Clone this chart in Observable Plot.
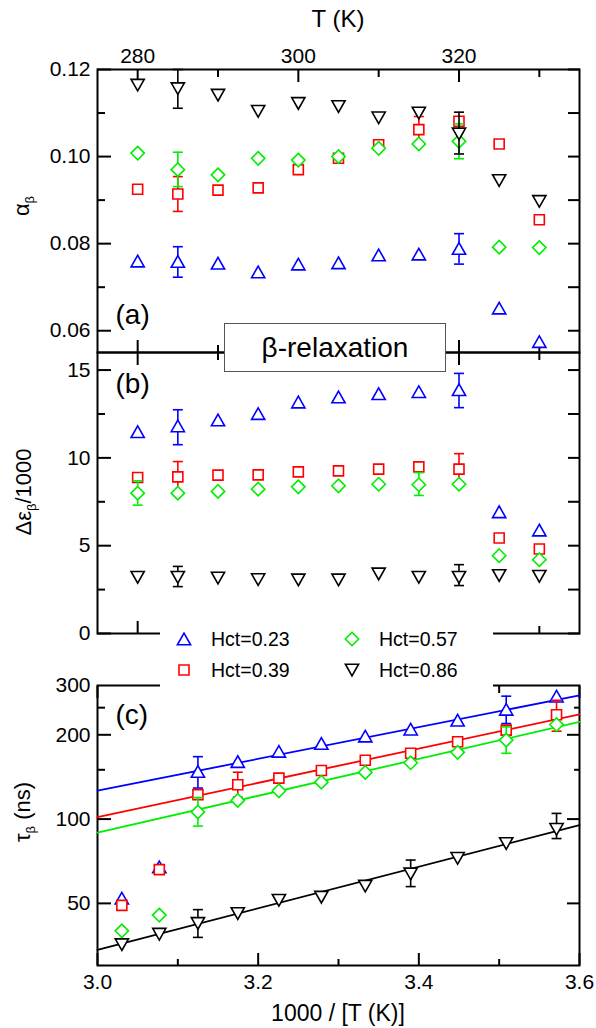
<!DOCTYPE html>
<html>
<head>
<meta charset="utf-8">
<script src="https://cdn.jsdelivr.net/npm/d3@7"></script>
<script src="https://cdn.jsdelivr.net/npm/@observablehq/plot@0.6"></script>
<style>
  html, body { margin: 0; padding: 0; background: #fff; }
  #figure { position: relative; width: 596px; height: 1028px; overflow: hidden;
            font-family: "Liberation Sans", Arial, Helvetica, sans-serif; color: #000; }
  #figure > * { position: absolute; }
  .tag-box { left: 224px; top: 323px; width: 220px; height: 47px; border: 1px solid #555;
             background: #fff; font-size: 28px; line-height: 47px; text-align: center; }
  .legend { left: 160px; top: 619px; width: 333px; height: 81px; background: #fff; }
  .legend svg, .legend span { position: absolute; }
  .legend span { font-size: 19.5px; line-height: 20px; white-space: nowrap; }
</style>
</head>
<body>
<div id="figure"></div>
<script>
// Measurement temperatures (K)
const temperatures = [280, 285, 290, 295, 300, 305, 310, 315, 320, 325, 330];

// Samples
const hematocrits = ["Hct=0.23", "Hct=0.39", "Hct=0.57", "Hct=0.86"];
const seriesColors = ["#0000ff", "#ff0000", "#00ee00", "#000000"];

// (a) shape parameter alpha_beta, one value per temperature
const alpha023 = [0.0760, 0.0759, 0.0755, 0.0735, 0.0753, 0.0756, 0.0774, 0.0776, 0.0789, 0.0652, 0.0575];
const alpha039 = [0.0925, 0.0914, 0.0923, 0.0928, 0.0970, 0.0996, 0.1027, 0.1062, 0.1081, 0.1029, 0.0855];
const alpha057 = [0.1008, 0.0970, 0.0958, 0.0996, 0.0992, 0.1000, 0.1019, 0.1029, 0.1035, 0.0792, 0.0791];
const alpha086 = [0.1164, 0.1156, 0.1141, 0.1104, 0.1122, 0.1115, 0.1089, 0.1100, 0.1052, 0.0945, 0.0897];
// error bars: [T, low, high]
const alpha023Err = [[285, 0.0723, 0.0793], [320, 0.0753, 0.0823]];
const alpha039Err = [[285, 0.0874, 0.0954], [315, 0.1032, 0.1092]];
const alpha057Err = [[285, 0.0931, 0.1010], [320, 0.0995, 0.1075]];
const alpha086Err = [[285, 0.1111, 0.1200], [320, 0.1006, 0.1102]];

// (b) relaxation strength Δε_beta / 1000
const eps023 = [11.49, 11.82, 12.16, 12.52, 13.18, 13.47, 13.65, 13.77, 13.88, 6.93, 5.89];
const eps039 = [8.88, 8.92, 9.02, 9.03, 9.20, 9.26, 9.36, 9.49, 9.36, 5.44, 4.81];
const eps057 = [7.99, 7.99, 8.09, 8.22, 8.35, 8.41, 8.50, 8.47, 8.50, 4.43, 4.20];
const eps086 = [3.20, 3.20, 3.16, 3.07, 3.05, 3.05, 3.39, 3.20, 3.20, 3.30, 3.26];
const eps023Err = [[285, 10.75, 12.74], [320, 12.86, 14.81]];
const eps039Err = [[285, 8.03, 9.79], [320, 8.50, 10.24]];
const eps057Err = [[280, 7.31, 8.69], [315, 7.86, 9.16]];
const eps086Err = [[285, 2.67, 3.82], [320, 2.73, 3.92]];

// (c) relaxation time tau_beta (ns)
const tau023 = [274.8, 246.6, 225.4, 209.5, 197.9, 186.3, 174.6, 160.5, 147.9, 67.5, 52.2];
const tau039 = [236.0, 207.8, 188.9, 171.8, 162.2, 149.1, 140.1, 132.7, 122.3, 66.0, 49.2];
const tau057 = [217.6, 191.5, 173.1, 158.9, 146.8, 135.5, 126.2, 116.6, 106.1, 45.4, 39.9];
const tau086 = [91.9, 81.8, 72.4, 63.7, 57.6, 52.6, 51.3, 46.0, 42.4, 38.8, 35.6];
const tau023Err = [[320, 129.1, 167.1], [285, 219.4, 274.8]];
const tau039Err = [[315, 119.8, 147.0], [280, 206.0, 265.6]];
const tau057Err = [[320, 94.4, 119.3], [285, 171.8, 213.5]];
const tau086Err = [[320, 37.8, 47.5], [295, 57.4, 71.4], [280, 85.2, 104.8]];

// Arrhenius fits: tau at the two ends of the 1000/T range
const fitRange = [3.0, 3.6];
const fitStart = [126.4, 101.6, 89.4, 34.1];
const fitEnd = [276.5, 236.7, 222.3, 95.2];

// Axis ticks
const tTicksMajor = [280, 300, 320];
const tTicksMinor = [290, 310, 330];
const alphaTicksMajor = [0.06, 0.08, 0.10, 0.12];
const alphaTicksMinor = [0.07, 0.09, 0.11];
const epsTicksMajor = [0, 5, 10, 15];
const epsTicksMinor = [2.5, 7.5, 12.5];
const invTicksMajor = [3.0, 3.2, 3.4, 3.6];
const invTicksMinor = [3.1, 3.3, 3.5];
const tauTicksLabeled = [50, 100, 200, 300];
const tauTicksMajor = [50, 100, 200];
const tauTicksMinor = [150, 250];

// ---------- marker shapes (centred on their bounding box) ----------
const poly = pts => ({draw(ctx, size) {
  const s = Math.sqrt(size);
  pts.forEach(([px, py], i) => i ? ctx.lineTo(px * s, py * s) : ctx.moveTo(px * s, py * s));
  ctx.closePath();
}});
const triangleUp = poly([[0, -0.58], [0.66, 0.58], [-0.66, 0.58]]);
const triangleDown = poly([[0, 0.58], [0.66, -0.58], [-0.66, -0.58]]);
const squareOpen = poly([[-0.5, -0.5], [0.5, -0.5], [0.5, 0.5], [-0.5, 0.5]]);
const diamondOpen = poly([[0, -0.67], [0.67, 0], [0, 0.67], [-0.67, 0]]);
const capLine = {draw(ctx, size) { const s = Math.sqrt(size) * 0.5; ctx.moveTo(-s, 0); ctx.lineTo(s, 0); }};
const seriesSymbols = [triangleUp, squareOpen, diamondOpen, triangleDown];
const R = 10 / Math.sqrt(Math.PI); // sqrt(symbol size) = 10 px
const SW = 1.6;

const baseStyle = {
  fontFamily: '"Liberation Sans", Arial, Helvetica, sans-serif',
  fontSize: "21px", background: "transparent", overflow: "visible", color: "black"
};

function seriesMarks(k, xKey, values, errors) {
  const color = seriesColors[k];
  const rows = temperatures.map((T, i) => ({T, invT: 1000 / T, v: values[i]}));
  const bars = errors.map(([T, lo, hi]) => ({T, invT: 1000 / T, lo, hi}));
  const caps = bars.flatMap(d => [{...d, v: d.lo}, {...d, v: d.hi}]);
  return [
    Plot.ruleX(bars, {x: xKey, y1: "lo", y2: "hi", stroke: color, strokeWidth: SW}),
    Plot.dot(caps, {x: xKey, y: "v", symbol: capLine, r: R, stroke: color, fill: "none", strokeWidth: SW}),
    Plot.dot(rows, {x: xKey, y: "v", symbol: seriesSymbols[k], r: R, stroke: color, fill: "white", strokeWidth: SW})
  ];
}

// inward ticks without labels
const inX = (values, anchor, len) => Plot.axisX(values, {anchor, tickSize: -len, fill: "none", strokeWidth: 2, label: null});
const inY = (values, anchor, len) => Plot.axisY(values, {anchor, tickSize: -len, fill: "none", strokeWidth: 2, label: null});
const frame = () => Plot.frame({stroke: "black", strokeWidth: 2});
const panelTag = (text, anchor, dy) => Plot.text([text], {frameAnchor: anchor, dx: 18, dy, fontSize: 28, textAnchor: "start", lineAnchor: "middle"});

const tAxisX = {domain: [275, 335], label: null};

// ---------- (a) ----------
const panelA = Plot.plot({
  width: 596, height: 352, marginLeft: 97, marginRight: 17, marginTop: 69, marginBottom: 0,
  x: tAxisX, y: {domain: [0.055, 0.12], label: null}, style: baseStyle,
  marks: [
    inX(tTicksMajor, "top", 12), inX(tTicksMinor, "top", 7),
    inX(tTicksMajor, "bottom", 12), inX(tTicksMinor, "bottom", 7),
    inY(alphaTicksMajor, "left", 14), inY(alphaTicksMinor, "left", 8),
    inY(alphaTicksMajor, "right", 12), inY(alphaTicksMinor, "right", 12),
    Plot.axisX(tTicksMajor, {anchor: "top", tickSize: 0, tickPadding: 7, label: null}),
    Plot.axisY(alphaTicksMajor, {anchor: "left", tickSize: 0, tickPadding: 7, tickFormat: d3.format(".2f"), label: null}),
    frame(),
    ...seriesMarks(0, "T", alpha023, alpha023Err),
    ...seriesMarks(1, "T", alpha039, alpha039Err),
    ...seriesMarks(2, "T", alpha057, alpha057Err),
    ...seriesMarks(3, "T", alpha086, alpha086Err),
    panelTag("(a)", "bottom-left", -37)
  ]
});

// ---------- (b) ----------
const panelB = Plot.plot({
  width: 596, height: 301, marginLeft: 97, marginRight: 17, marginTop: 10, marginBottom: 10,
  x: tAxisX, y: {domain: [0, 16], label: null}, style: baseStyle,
  marks: [
    inX(tTicksMajor, "top", 12), inX(tTicksMinor, "top", 7),
    inX(tTicksMajor, "bottom", 12), inX(tTicksMinor, "bottom", 7),
    inY(epsTicksMajor, "left", 14), inY(epsTicksMinor, "left", 8),
    inY(epsTicksMajor, "right", 12), inY(epsTicksMinor, "right", 12),
    Plot.axisY(epsTicksMajor, {anchor: "left", tickSize: 0, tickPadding: 7, label: null}),
    frame(),
    ...seriesMarks(0, "T", eps023, eps023Err),
    ...seriesMarks(1, "T", eps039, eps039Err),
    ...seriesMarks(2, "T", eps057, eps057Err),
    ...seriesMarks(3, "T", eps086, eps086Err),
    panelTag("(b)", "top-left", 32)
  ]
});

// ---------- (c) ----------
const fitLines = fitStart.map((v0, k) => Plot.line(
  [{invT: fitRange[0], v: v0}, {invT: fitRange[1], v: fitEnd[k]}],
  {x: "invT", y: "v", stroke: seriesColors[k], strokeWidth: 1.8}
));
const panelC = Plot.plot({
  width: 596, height: 388, marginLeft: 97, marginRight: 17, marginTop: 45, marginBottom: 63,
  x: {domain: [3.0, 3.6], label: null},
  y: {type: "log", domain: [30, 300], label: null}, style: baseStyle,
  marks: [
    inX(invTicksMajor, "top", 12), inX(invTicksMinor, "top", 7),
    inX(invTicksMajor, "bottom", 12), inX(invTicksMinor, "bottom", 6),
    inY(tauTicksMajor, "left", 14), inY(tauTicksMinor, "left", 8),
    inY(tauTicksMajor, "right", 13), inY(tauTicksMinor, "right", 6),
    Plot.axisX(invTicksMajor, {anchor: "bottom", tickSize: 0, tickPadding: 9, tickFormat: d3.format(".1f"), label: null}),
    Plot.axisY(tauTicksLabeled, {anchor: "left", tickSize: 0, tickPadding: 7, tickFormat: d3.format("d"), label: null}),
    frame(),
    ...fitLines,
    ...seriesMarks(0, "invT", tau023, tau023Err),
    ...seriesMarks(1, "invT", tau039, tau039Err),
    ...seriesMarks(2, "invT", tau057, tau057Err),
    ...seriesMarks(3, "invT", tau086, tau086Err),
    panelTag("(c)", "top-left", 30)
  ]
});

const fig = document.getElementById("figure");
panelA.style.left = "0px"; panelA.style.top = "0px";
panelB.style.left = "0px"; panelB.style.top = "342px";
panelC.style.left = "0px"; panelC.style.top = "640px";
fig.append(panelA, panelB, panelC);

// "β-relaxation" tag on the a/b boundary
const tag = document.createElement("div");
tag.className = "tag-box";
tag.textContent = "β-relaxation";
fig.append(tag);

// Legend, two columns
const legend = document.createElement("div");
legend.className = "legend";
const legendPos = [[24, 20], [24, 51], [192, 20], [192, 51]]; // 0.23, 0.39, 0.57, 0.86
hematocrits.forEach((name, k) => {
  const [cx, cy] = legendPos[k];
  const p = d3.path();
  seriesSymbols[k].draw(p, 100);
  const sym = d3.create("svg").attr("width", 20).attr("height", 20)
    .style("left", (cx - 10) + "px").style("top", (cy - 10) + "px").style("overflow", "visible");
  sym.append("path").attr("transform", "translate(10,10)").attr("d", p.toString())
    .attr("fill", "white").attr("stroke", seriesColors[k]).attr("stroke-width", SW);
  legend.append(sym.node());
  const label = document.createElement("span");
  label.textContent = name;
  label.style.left = (cx + 27) + "px";
  label.style.top = (cy - 10) + "px";
  legend.append(label);
});
fig.append(legend);

// Axis titles
const titles = d3.create("svg").attr("width", 596).attr("height", 1028)
  .style("left", "0px").style("top", "0px").style("pointer-events", "none")
  .style("font-family", '"Liberation Sans", Arial, Helvetica, sans-serif');
titles.append("text").attr("x", 338).attr("y", 27).attr("text-anchor", "middle")
  .attr("font-size", 24).text("T (K)");
titles.append("text").attr("x", 338).attr("y", 1021).attr("text-anchor", "middle")
  .attr("font-size", 23).text("1000 / [T (K)]");
function yTitle(x, y, parts) {
  const t = titles.append("text").attr("transform", `translate(${x},${y}) rotate(-90)`)
    .attr("text-anchor", "middle").attr("font-size", 22);
  parts.forEach(([s, sub]) => {
    const ts = t.append("tspan").text(s);
    if (sub) ts.attr("font-size", 13).attr("baseline-shift", "-35%");
  });
}
yTitle(29, 206, [["α"], ["β", true]]);
yTitle(31, 492, [["Δε"], ["β", true], ["/1000"]]);
yTitle(30, 812, [["τ"], ["β", true], [" (ns)"]]);
fig.append(titles.node());
</script>
</body>
</html>
